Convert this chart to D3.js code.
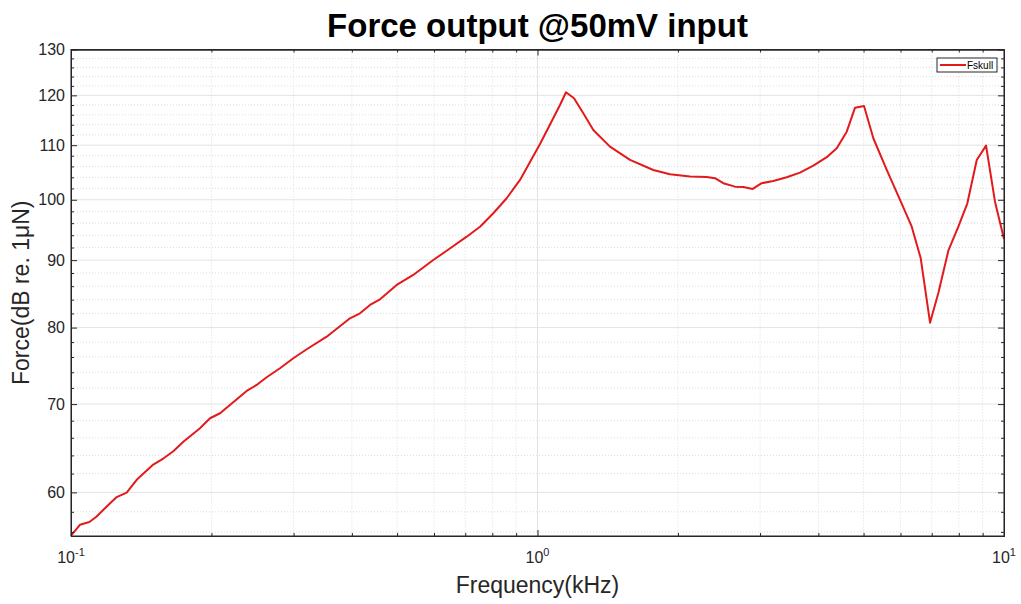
<!DOCTYPE html>
<html>
<head>
<meta charset="utf-8">
<script src="https://cdn.jsdelivr.net/npm/d3@7"></script>
<style>
  body { margin: 0; background: #fff; }
  text { font-family: "Liberation Sans", Arial, sans-serif; }
</style>
</head>
<body>
<div id="chart"></div>
<script>
// frequency in kHz, force in dB re. 1uN
var freq_khz = [0.1, 0.1045, 0.1095, 0.1135, 0.1193, 0.1253, 0.1316, 0.1383, 0.1501, 0.1577,
    0.1657, 0.1741, 0.1890, 0.1986, 0.2087, 0.2380, 0.2500, 0.2627, 0.2805, 0.2996,
    0.3201, 0.3533, 0.3963, 0.4164, 0.4375, 0.4597, 0.4991, 0.5416, 0.5978, 0.6387,
    0.7051, 0.7529, 0.8040, 0.8588, 0.9173, 0.9637, 1.0124, 1.0637, 1.1174, 1.1511,
    1.1975, 1.2537, 1.3172, 1.4301,
    1.5789, 1.7708, 1.9232, 2.1230, 2.3048, 2.4013, 2.5018, 2.6507, 2.7617, 2.8929,
    3.0242, 3.2024, 3.4214, 3.6536, 3.9017, 4.1689, 4.3798, 4.6011, 4.7937, 5.0115,
    5.2470, 5.6058, 5.9861, 6.3419, 6.6301, 6.9416, 7.2319, 7.5979, 7.9825, 8.3453,
    8.7417, 9.1520, 9.5657, 10.0];
var fskull = [55.63, 56.70, 56.97, 57.53, 58.54, 59.51, 59.98, 61.33, 62.99, 63.65,
    64.47, 65.55, 67.11, 68.29, 68.89, 71.63, 72.38, 73.36, 74.52, 75.83,
    77.03, 78.74, 81.31, 82.02, 83.22, 84.05, 86.18, 87.70, 90.02, 91.49,
    93.76, 95.41, 97.67, 100.27, 103.52, 106.83, 110.24, 114.04, 118.00, 120.64,
    119.38, 116.30, 112.96, 109.72,
    107.20, 105.34, 104.56, 104.13, 104.07, 103.84, 102.94, 102.32, 102.26, 101.91,
    102.94, 103.34, 104.02, 104.86, 106.15, 107.72, 109.42, 112.63, 117.44, 117.78,
    111.34, 105.34, 99.97, 95.41, 90.28, 80.69, 84.98, 91.49, 95.41, 99.39,
    107.20, 109.91, 99.67, 93.39];

var x_domain = [0.1, 10];
var y_domain = [55.6, 130];
var y_major_ticks = [60, 70, 80, 90, 100, 110, 120, 130];
var y_minor_ticks = [56, 58, 62, 64, 66, 68, 72, 74, 76, 78, 82, 84, 86, 88, 92, 94, 96, 98,
    102, 104, 106, 108, 112, 114, 116, 118, 122, 124, 126, 128];
var x_major_ticks = [0.1, 1, 10];
var x_tick_exponents = ['-1', '0', '1'];

var svg_size = { 'width': 1021, 'height': 604 };
var plot = { 'left': 71, 'top': 49.5, 'right': 1004, 'bottom': 536 };
var axis_color = '#262626';

var svg = d3.select('#chart')
    .append('svg')
    .attr('width', svg_size.width)
    .attr('height', svg_size.height);

var x_scale = d3.scaleLog()
    .domain(x_domain)
    .range([plot.left, plot.right]);

var y_scale = d3.scaleLog()
    .domain(y_domain)
    .range([plot.bottom, plot.top]);

// minor x ticks: 2..9 in every decade
var x_minor_ticks = x_scale.ticks().filter(function(d){
    return x_major_ticks.indexOf(d) < 0 && d > x_domain[0] && d < x_domain[1];
});

var grid = svg.append('g');

grid.selectAll('.x-minor-grid')
    .data(x_minor_ticks)
    .enter()
    .append('line')
    .attr('x1', function(d){ return x_scale(d); })
    .attr('x2', function(d){ return x_scale(d); })
    .attr('y1', plot.top)
    .attr('y2', plot.bottom)
    .style('stroke', '#dcdcdc')
    .style('stroke-width', 1)
    .style('stroke-dasharray', '1,2');

grid.selectAll('.y-minor-grid')
    .data(y_minor_ticks)
    .enter()
    .append('line')
    .attr('x1', plot.left)
    .attr('x2', plot.right)
    .attr('y1', function(d){ return y_scale(d); })
    .attr('y2', function(d){ return y_scale(d); })
    .style('stroke', '#dcdcdc')
    .style('stroke-width', 1)
    .style('stroke-dasharray', '1,2');

grid.selectAll('.x-major-grid')
    .data(x_major_ticks)
    .enter()
    .append('line')
    .attr('x1', function(d){ return x_scale(d); })
    .attr('x2', function(d){ return x_scale(d); })
    .attr('y1', plot.top)
    .attr('y2', plot.bottom)
    .style('stroke', '#e3e3e3')
    .style('stroke-width', 1);

grid.selectAll('.y-major-grid')
    .data(y_major_ticks)
    .enter()
    .append('line')
    .attr('x1', plot.left)
    .attr('x2', plot.right)
    .attr('y1', function(d){ return y_scale(d); })
    .attr('y2', function(d){ return y_scale(d); })
    .style('stroke', '#e3e3e3')
    .style('stroke-width', 1);

// data line
var line = d3.line()
    .x(function(d){ return x_scale(d[0]); })
    .y(function(d){ return y_scale(d[1]); });

svg.append('path')
    .datum(d3.zip(freq_khz, fskull))
    .attr('d', line)
    .style('fill', 'none')
    .style('stroke', '#e31a1c')
    .style('stroke-width', 2)
    .style('stroke-linejoin', 'round');

// axes (ticks pointing inward, box on)
function style_axis(g){
    g.selectAll('path').style('stroke', axis_color);
    g.selectAll('line').style('stroke', axis_color);
    g.selectAll('text').remove();
}

svg.append('g')
    .attr('transform', 'translate(0,' + plot.bottom + ')')
    .call(d3.axisBottom(x_scale).tickValues(x_major_ticks).tickSizeInner(-6).tickSizeOuter(0))
    .call(style_axis);
svg.append('g')
    .attr('transform', 'translate(0,' + plot.bottom + ')')
    .call(d3.axisBottom(x_scale).tickValues(x_minor_ticks).tickSizeInner(-3).tickSizeOuter(0))
    .call(style_axis);
svg.append('g')
    .attr('transform', 'translate(0,' + plot.top + ')')
    .call(d3.axisTop(x_scale).tickValues(x_major_ticks).tickSizeInner(-6).tickSizeOuter(0))
    .call(style_axis);
svg.append('g')
    .attr('transform', 'translate(0,' + plot.top + ')')
    .call(d3.axisTop(x_scale).tickValues(x_minor_ticks).tickSizeInner(-3).tickSizeOuter(0))
    .call(style_axis);
svg.append('g')
    .attr('transform', 'translate(' + plot.left + ',0)')
    .call(d3.axisLeft(y_scale).tickValues(y_major_ticks).tickSizeInner(-6).tickSizeOuter(0))
    .call(style_axis);
svg.append('g')
    .attr('transform', 'translate(' + plot.left + ',0)')
    .call(d3.axisLeft(y_scale).tickValues(y_minor_ticks).tickSizeInner(-3).tickSizeOuter(0))
    .call(style_axis);
svg.append('g')
    .attr('transform', 'translate(' + plot.right + ',0)')
    .call(d3.axisRight(y_scale).tickValues(y_major_ticks).tickSizeInner(-6).tickSizeOuter(0))
    .call(style_axis);
svg.append('g')
    .attr('transform', 'translate(' + plot.right + ',0)')
    .call(d3.axisRight(y_scale).tickValues(y_minor_ticks).tickSizeInner(-3).tickSizeOuter(0))
    .call(style_axis);

svg.append('rect')
    .attr('x', plot.left)
    .attr('y', plot.top)
    .attr('width', plot.right - plot.left)
    .attr('height', plot.bottom - plot.top)
    .style('fill', 'none')
    .style('stroke', axis_color)
    .style('stroke-width', 1);

// y tick labels
svg.selectAll('.y-label')
    .data(y_major_ticks)
    .enter()
    .append('text')
    .attr('x', plot.left - 6)
    .attr('y', function(d){ return y_scale(d); })
    .attr('text-anchor', 'end')
    .attr('dominant-baseline', 'central')
    .style('font-size', '16px')
    .style('fill', axis_color)
    .text(function(d){ return d; });

// x tick labels as 10^n
var x_labels = svg.selectAll('.x-label')
    .data(x_major_ticks)
    .enter()
    .append('text')
    .attr('x', function(d){ return x_scale(d); })
    .attr('y', plot.bottom + 27)
    .attr('text-anchor', 'middle')
    .style('font-size', '16px')
    .style('fill', axis_color);
x_labels.append('tspan').text('10');
x_labels.append('tspan')
    .attr('dy', -7)
    .style('font-size', '11px')
    .text(function(d, i){ return x_tick_exponents[i]; });

// titles
svg.append('text')
    .attr('x', (plot.left + plot.right) / 2)
    .attr('y', 37)
    .attr('text-anchor', 'middle')
    .style('font-size', '33px')
    .style('font-weight', 'bold')
    .style('fill', '#000')
    .text('Force output @50mV input');

svg.append('text')
    .attr('x', (plot.left + plot.right) / 2)
    .attr('y', 593)
    .attr('text-anchor', 'middle')
    .style('font-size', '23px')
    .style('fill', axis_color)
    .text('Frequency(kHz)');

svg.append('text')
    .attr('transform', 'translate(29,' + ((plot.top + plot.bottom) / 2) + ') rotate(-90)')
    .attr('text-anchor', 'middle')
    .style('font-size', '23px')
    .style('fill', axis_color)
    .text('Force(dB re. 1μN)');

// legend
var legend = svg.append('g')
    .attr('transform', 'translate(937,58)');
legend.append('rect')
    .attr('width', 60)
    .attr('height', 14)
    .style('fill', '#fff')
    .style('stroke', axis_color)
    .style('stroke-width', 1);
legend.append('line')
    .attr('x1', 3)
    .attr('x2', 29)
    .attr('y1', 7)
    .attr('y2', 7)
    .style('stroke', '#e31a1c')
    .style('stroke-width', 2);
legend.append('text')
    .attr('x', 30)
    .attr('y', 7)
    .attr('dominant-baseline', 'central')
    .style('font-size', '10px')
    .style('fill', '#000')
    .text('Fskull');
</script>
</body>
</html>
